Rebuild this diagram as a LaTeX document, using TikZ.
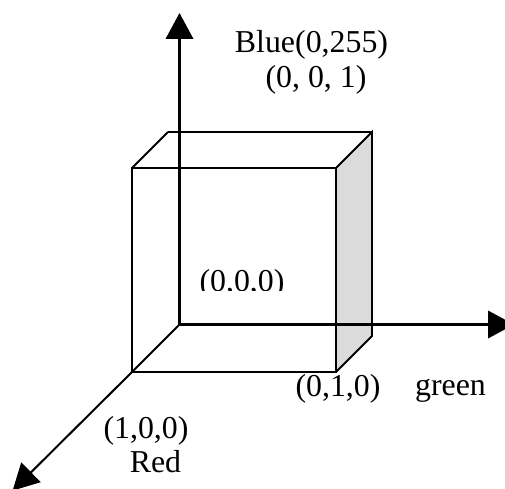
\documentclass[tikz,border=0pt]{standalone}
\usepackage{fontspec}
\setmainfont{Liberation Serif}
\usetikzlibrary{arrows.meta}
\tikzset{
  axisarr/.style={-{Triangle[length=19.5pt,width=20.5pt]},line width=2pt},
  rayarr/.style={-{Triangle[length=19.5pt,width=20.5pt]},line width=1.5pt},
  edge/.style={draw=black,line width=1.4pt},
  thinedge/.style={draw=black,line width=1pt},
  lbl/.style={anchor=base,inner sep=0pt,font=\fontsize{23.9pt}{28pt}\selectfont}
}
\begin{document}
\begin{tikzpicture}[x=0.75pt,y=-0.75pt]
\useasboundingbox (0,0) rectangle (505,488);
\clip (0,0) rectangle (505,488);

% cube corners
\coordinate (fronttl) at (132,168);
\coordinate (fronttr) at (336,168);
\coordinate (frontbl) at (132,372);
\coordinate (frontbr) at (336,372);
\coordinate (backtl) at (168,132);
\coordinate (backmid) at (204,132);
\coordinate (backtr) at (372,132);
\coordinate (backbr) at (372,336);

% axes ends
\coordinate (origin) at (179.5,324.5);
\coordinate (bluetip) at (179.5,13);
\coordinate (greentip) at (514,324.5);
\coordinate (redtip) at (12.6,490.6);

\fill[gray!28] (fronttr) -- (backtr) -- (backbr) -- (frontbr) -- cycle;
\draw[edge] (fronttl) rectangle (frontbr);
\draw[edge] (fronttl) -- (backtl);
\draw[edge] (backtl) -- (backmid);
\draw[thinedge] (backmid) -- (backtr);
\draw[edge] (fronttr) -- (backtr) -- (backbr) -- (frontbr);
\draw[edge] (origin) -- (frontbl);

\draw[axisarr] (origin) -- (bluetip);
\draw[axisarr] (origin) -- (greentip);
\draw[rayarr] (frontbl) -- (redtip);

\node[lbl] (bluelbl) at (311.5,53) {Blue(0,255)};
\node[lbl] (bluepos) at (316,88) {(0, 0, 1)};
\begin{scope}
\clip (190,260) rectangle (300,290);
\node[lbl] (origlbl) at (242,291) {(0,0,0)};
\end{scope}
\node[lbl] (greenpos) at (338,396) {(0,1,0)};
\node[lbl] (greenlbl) at (450.5,395) {green};
\node[lbl] (redpos) at (146,438) {(1,0,0)};
\node[lbl] (redlbl) at (155.5,472.6) {Red};
\end{tikzpicture}
\end{document}
